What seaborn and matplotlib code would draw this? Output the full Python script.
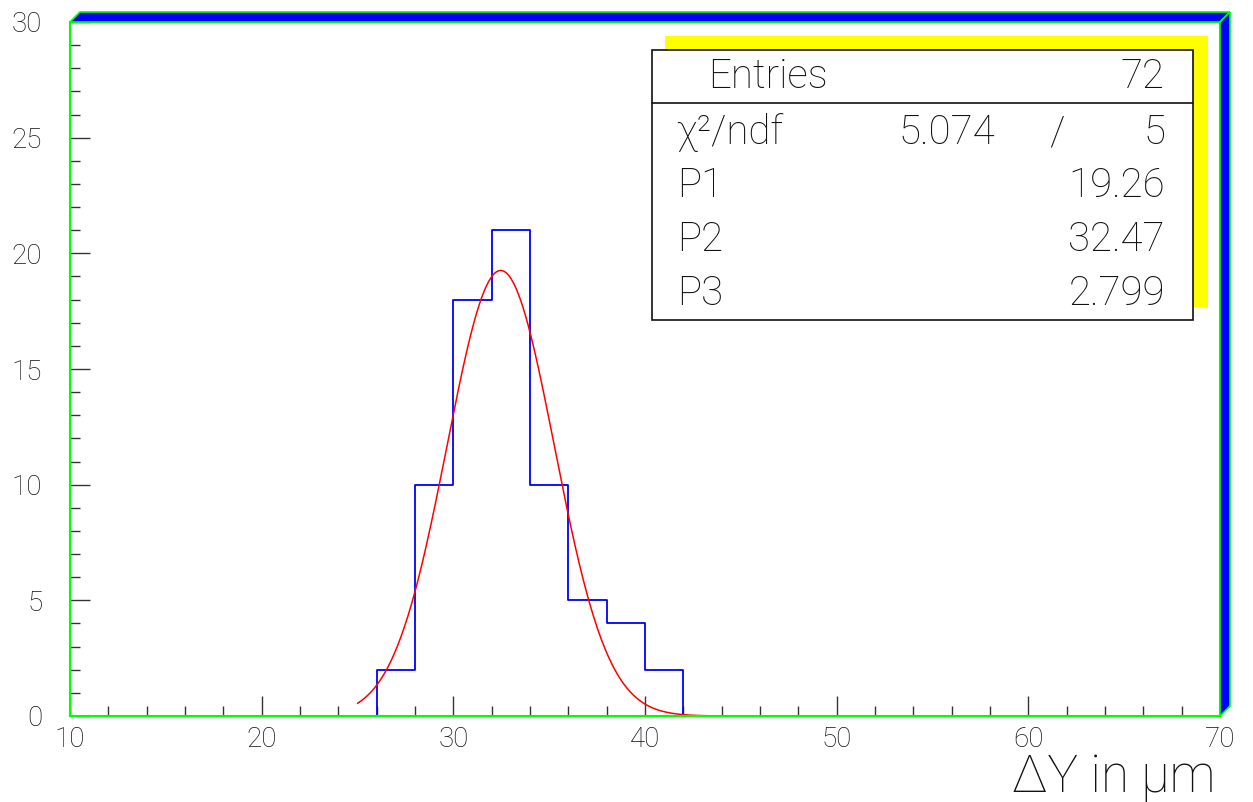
import numpy as np
import matplotlib
matplotlib.use("Agg")
import matplotlib.pyplot as plt
from matplotlib.patches import Polygon, Rectangle
from matplotlib.ticker import MultipleLocator
import seaborn as sns

# ---- data ----
bin_edges = [26, 28, 30, 32, 34, 36, 38, 40, 42]
bin_counts = [2, 10, 18, 21, 10, 5, 4, 2]
fit_p1, fit_p2, fit_p3 = 19.26, 32.47, 2.799
fit_range = (25, 50)
entries = 72
chi2, ndf = 5.074, 5
x_ticks = [10, 20, 30, 40, 50, 60, 70]
y_ticks = [0, 5, 10, 15, 20, 25, 30]

sns.set_theme(style="white")
plt.rcParams['font.family'] = ['Roboto', 'DejaVu Sans']
plt.rcParams['font.weight'] = 'light'

W, H = 1253, 802
fig = plt.figure(figsize=(W / 100, H / 100), dpi=100)
fig.patch.set_facecolor("white")

def fx(px):
    return px / W

def fy(py):
    return 1 - py / H

L, R, T, B = 70, 1220, 22, 716
ax = fig.add_axes([fx(L), fy(B), (R - L) / W, (B - T) / H])
ax.set_facecolor("white")

centers = [(a + b) / 2 for a, b in zip(bin_edges[:-1], bin_edges[1:])]
# pad with empty bins so the outline drops to zero at both ends
edges_full = [bin_edges[0] - 2] + bin_edges + [bin_edges[-1] + 2]
centers_full = [edges_full[0] + 1] + centers + [edges_full[-1] - 1]
counts_full = [0] + bin_counts + [0]
sns.histplot(x=centers_full, weights=counts_full, bins=edges_full, element="step",
             fill=False, color="#0000ff", linewidth=1.3, ax=ax)

fit_x = np.linspace(fit_range[0], fit_range[1], 400)
fit_y = fit_p1 * np.exp(-0.5 * ((fit_x - fit_p2) / fit_p3) ** 2)
sns.lineplot(x=fit_x, y=fit_y, color="#ff0000", linewidth=1.1, ax=ax)

ax.set_xlim(10, 70)
ax.set_ylim(0, 30)
ax.set_xticks(x_ticks)
ax.set_yticks(y_ticks)
ax.xaxis.set_minor_locator(MultipleLocator(2))
ax.yaxis.set_minor_locator(MultipleLocator(1))
ax.tick_params(which="both", bottom=True, left=True, top=False, right=False)
ax.tick_params(which="major", direction="in", length=14.4, width=1.0, color="#333333",
               labelsize=20, labelcolor="#111111")
ax.tick_params(which="minor", direction="in", length=7.2, width=1.0, color="#333333")
ax.tick_params(axis="x", which="major", pad=7)
ax.tick_params(axis="y", which="major", pad=20)
ax.set_xlabel("")
ax.set_ylabel("")
for sp in ax.spines.values():
    sp.set_visible(True)
    sp.set_color("#00ff00")
    sp.set_linewidth(1.5)
    sp.set_zorder(3)

# 3D frame bands
top_band = [(L, T), (L + 10, T - 10), (R + 10, T - 10), (R, T)]
right_band = [(R, T), (R + 10, T - 10), (R + 10, B - 10), (R, B)]
for band in (top_band, right_band):
    fig.add_artist(Polygon([(fx(a), fy(b)) for a, b in band], closed=True,
                           transform=fig.transFigure, facecolor="#0000ff",
                           edgecolor="#00ff00", linewidth=1.2))

# stats box
fig.add_artist(Rectangle((fx(665), fy(307)), (1208 - 665) / W, (307 - 36) / H,
                         transform=fig.transFigure, facecolor="#ffff00", edgecolor="none"))
fig.add_artist(Rectangle((fx(652), fy(320)), (1193 - 652) / W, (320 - 50) / H,
                         transform=fig.transFigure, facecolor="white", edgecolor="#111111",
                         linewidth=1.2))
fig.add_artist(plt.Line2D([fx(652), fx(1193)], [fy(103), fy(103)],
                          transform=fig.transFigure, color="#111111", linewidth=1.2))

fs = 29
tc = "#111111"
fig.text(fx(708), fy(77), "Entries", fontsize=fs, color=tc, ha="left", va="center")
fig.text(fx(1165), fy(77), f"{entries}", fontsize=fs, color=tc, ha="right", va="center")
fig.text(fx(676), fy(133), "χ²/ndf", fontsize=fs, color=tc, ha="left", va="center")
fig.text(fx(995), fy(133), f"{chi2:.3f}", fontsize=fs, color=tc, ha="right", va="center")
fig.text(fx(1057), fy(133), "/", fontsize=fs, color=tc, ha="center", va="center")
fig.text(fx(1165), fy(133), f"{ndf}", fontsize=fs, color=tc, ha="right", va="center")
for i, (name, val) in enumerate([("P1", f"{fit_p1:.2f}"), ("P2", f"{fit_p2:.2f}"),
                                 ("P3", f"{fit_p3:.3f}")]):
    yy = 186 + i * 54
    fig.text(fx(677), fy(yy), name, fontsize=fs, color=tc, ha="left", va="center")
    fig.text(fx(1165), fy(yy), val, fontsize=fs, color=tc, ha="right", va="center")

fig.text(fx(1215), fy(778), "ΔY in μm", fontsize=37, color=tc, ha="right", va="center")

fig.savefig("out.png", dpi=100, facecolor="white")
